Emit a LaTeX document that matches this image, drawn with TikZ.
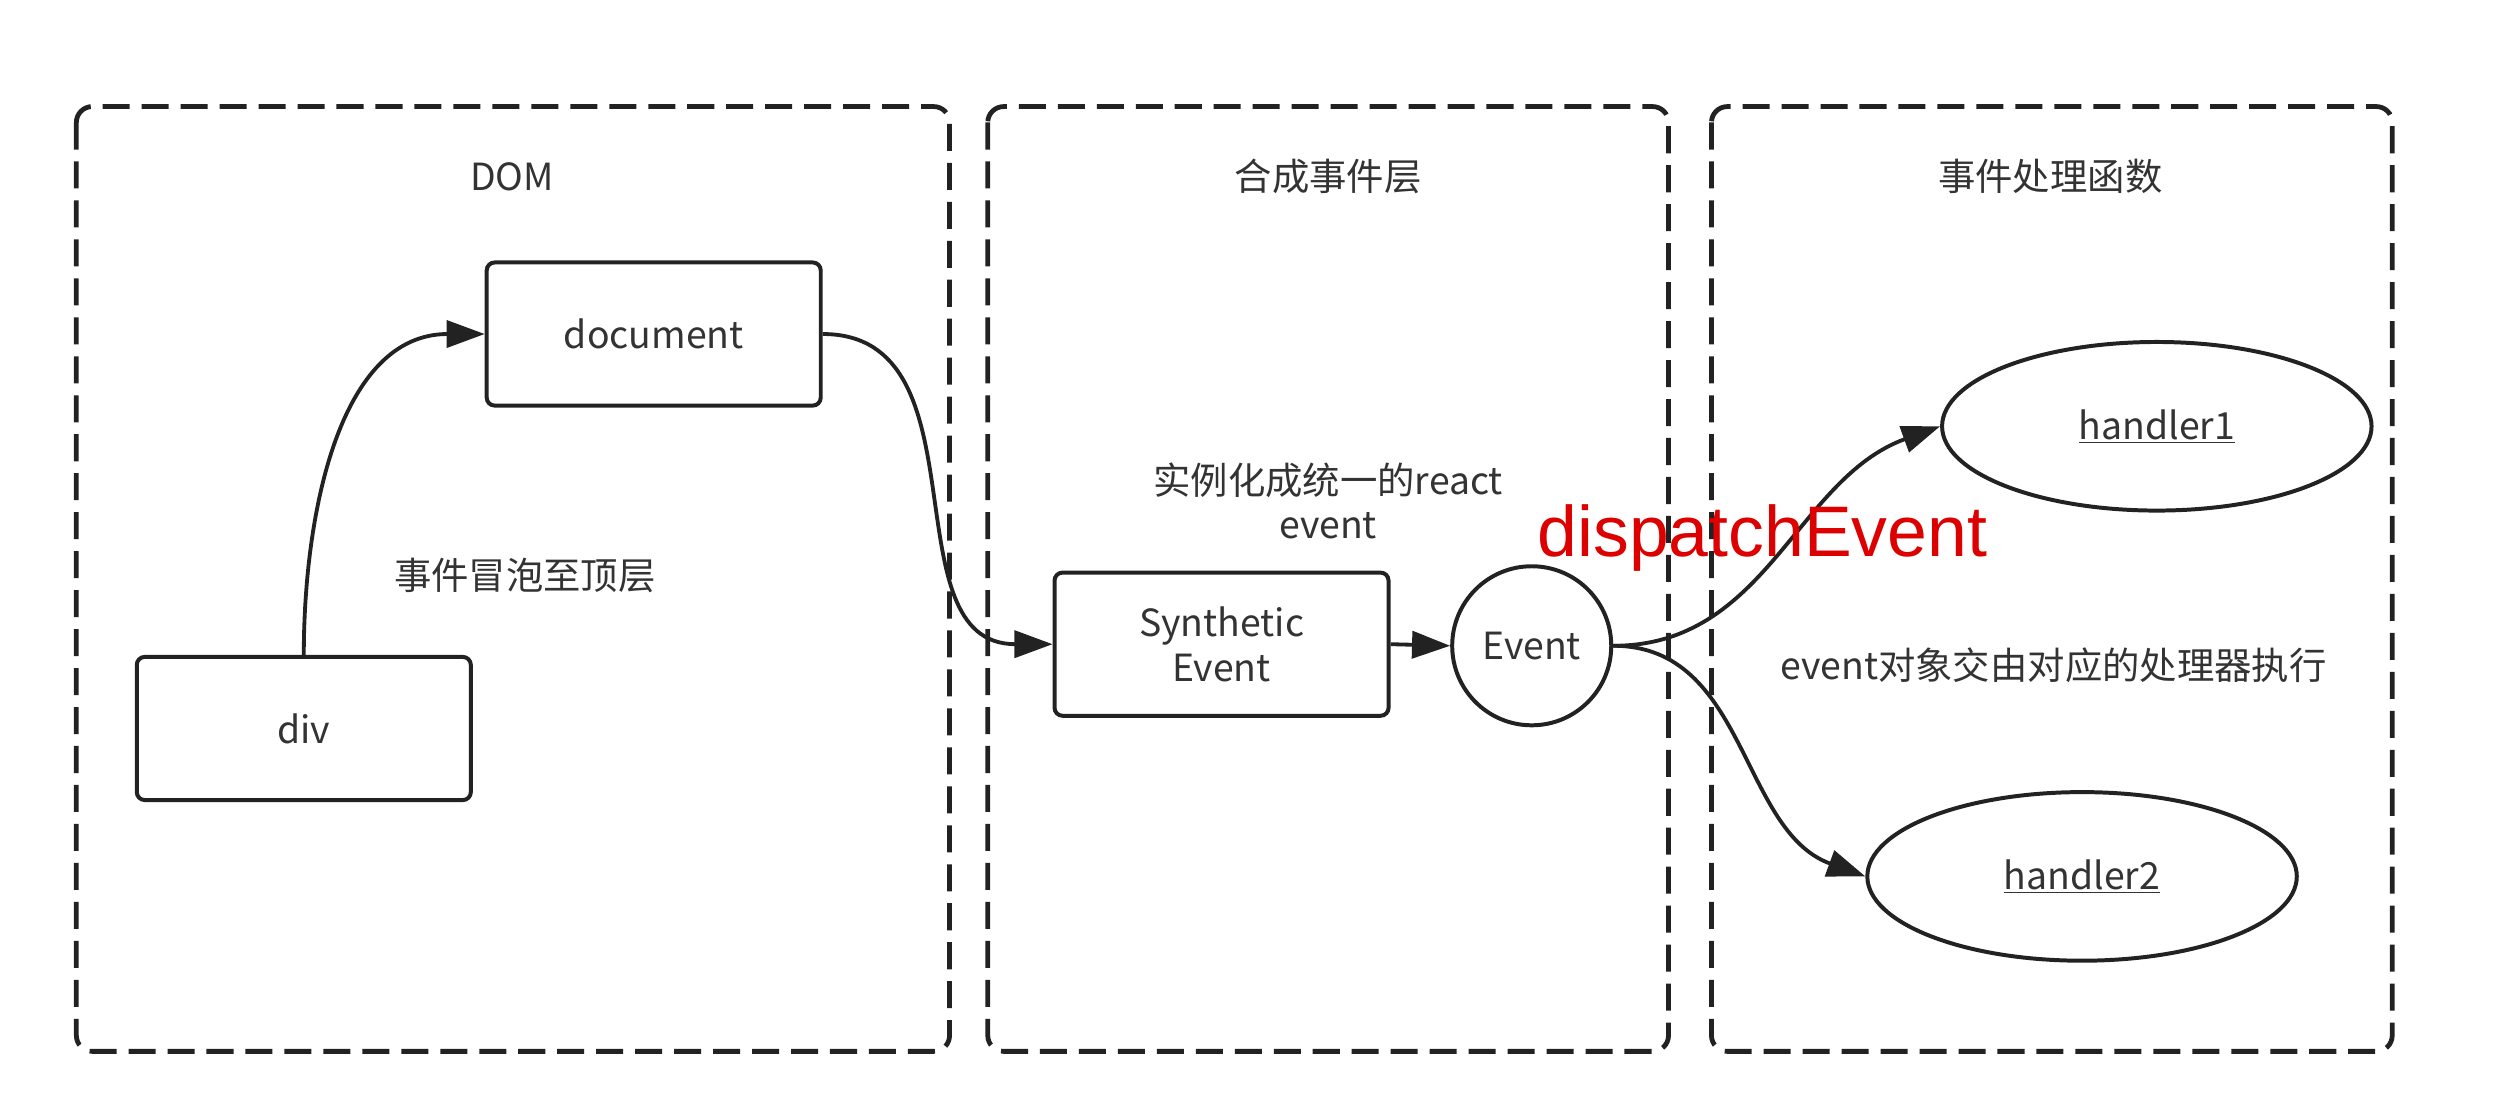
\documentclass[tikz,border=0pt]{standalone}
\usepackage{fontspec}
\setmainfont{Noto Sans CJK SC}
\newfontfamily\arialfont{Liberation Sans}
\usetikzlibrary{arrows.meta,shapes.geometric}
\definecolor{txtgray}{RGB}{51,51,51}
\definecolor{linegray}{RGB}{34,34,34}
\definecolor{dispred}{RGB}{221,0,0}
\begin{document}
\begin{tikzpicture}[x=1pt,y=-1pt,
  txtfont/.style={font=\fontsize{23.5}{28}\selectfont},
  lbl/.style={text=txtgray, txtfont, inner sep=0pt, align=center},
  group/.style={draw=linegray, line width=3pt, dash pattern=on 17pt off 7.5pt, rounded corners=10pt},
  boxnode/.style={draw=linegray, line width=2.5pt, rounded corners=5pt, minimum width=210pt, minimum height=90pt, inner sep=0pt, align=center, text=txtgray, txtfont, fill=white},
  ellnode/.style={draw=linegray, line width=2.5pt, ellipse, minimum width=270pt, minimum height=106pt, inner sep=0pt, text=txtgray, txtfont, fill=white},
  circnode/.style={draw=linegray, line width=2.5pt, circle, minimum size=100pt, inner sep=0pt, text=txtgray, txtfont, fill=white},
  conn/.style={draw=linegray, line width=2.4pt, -{Triangle[length=24pt,width=17pt]}}
]
\useasboundingbox[fill=white] (0,0) rectangle (1568,704);
% group frames
\draw[group] (48,67) rectangle (597,661);
\draw[group] (621,67) rectangle (1049,661);
\draw[group] (1076,67) rectangle (1504,661);
% titles
\node[lbl] (tdom) at (322,111) {DOM};
\node[lbl] (tsyn) at (835,111) {合成事件层};
\node[lbl] (thdl) at (1289,111) {事件处理函数};
% nodes
\node[boxnode] (doc) at (411,210) {document};
\node[boxnode] (div) at (191,458) {div};
\node[boxnode] (syn) at (768,405) {Synthetic\\Event};
\node[circnode] (ev) at (963,406) {Event};
\node[ellnode] (h1) at (1356,268) {\underline{handler1}};
\node[ellnode] (h2) at (1309,551) {\underline{handler2}};
% labels
\node[lbl] (bub) at (330,362) {事件冒泡至顶层};
\node[lbl] (inst) at (835,315) {实例化成统一的react\\event};
\node[lbl] (exec) at (1291,418) {event对象交由对应的处理器执行};
% connectors
\draw[conn] (div.north) to[out=90,in=180] (doc.west);
\draw[conn] (doc.east) to[out=0,in=180,looseness=1.1] (syn.west);
\draw[conn] (syn.east) -- (ev.west);
\draw[conn] (ev.east) to[out=0,in=200] (h1.west);
\draw[conn] (ev.east) to[out=0,in=160] (h2.west);
% red label
\node[anchor=base, inner sep=0pt, text=dispred, font=\arialfont\fontsize{45}{50}\selectfont] (disp) at (1108,350) {dispatchEvent};
\end{tikzpicture}
\end{document}
